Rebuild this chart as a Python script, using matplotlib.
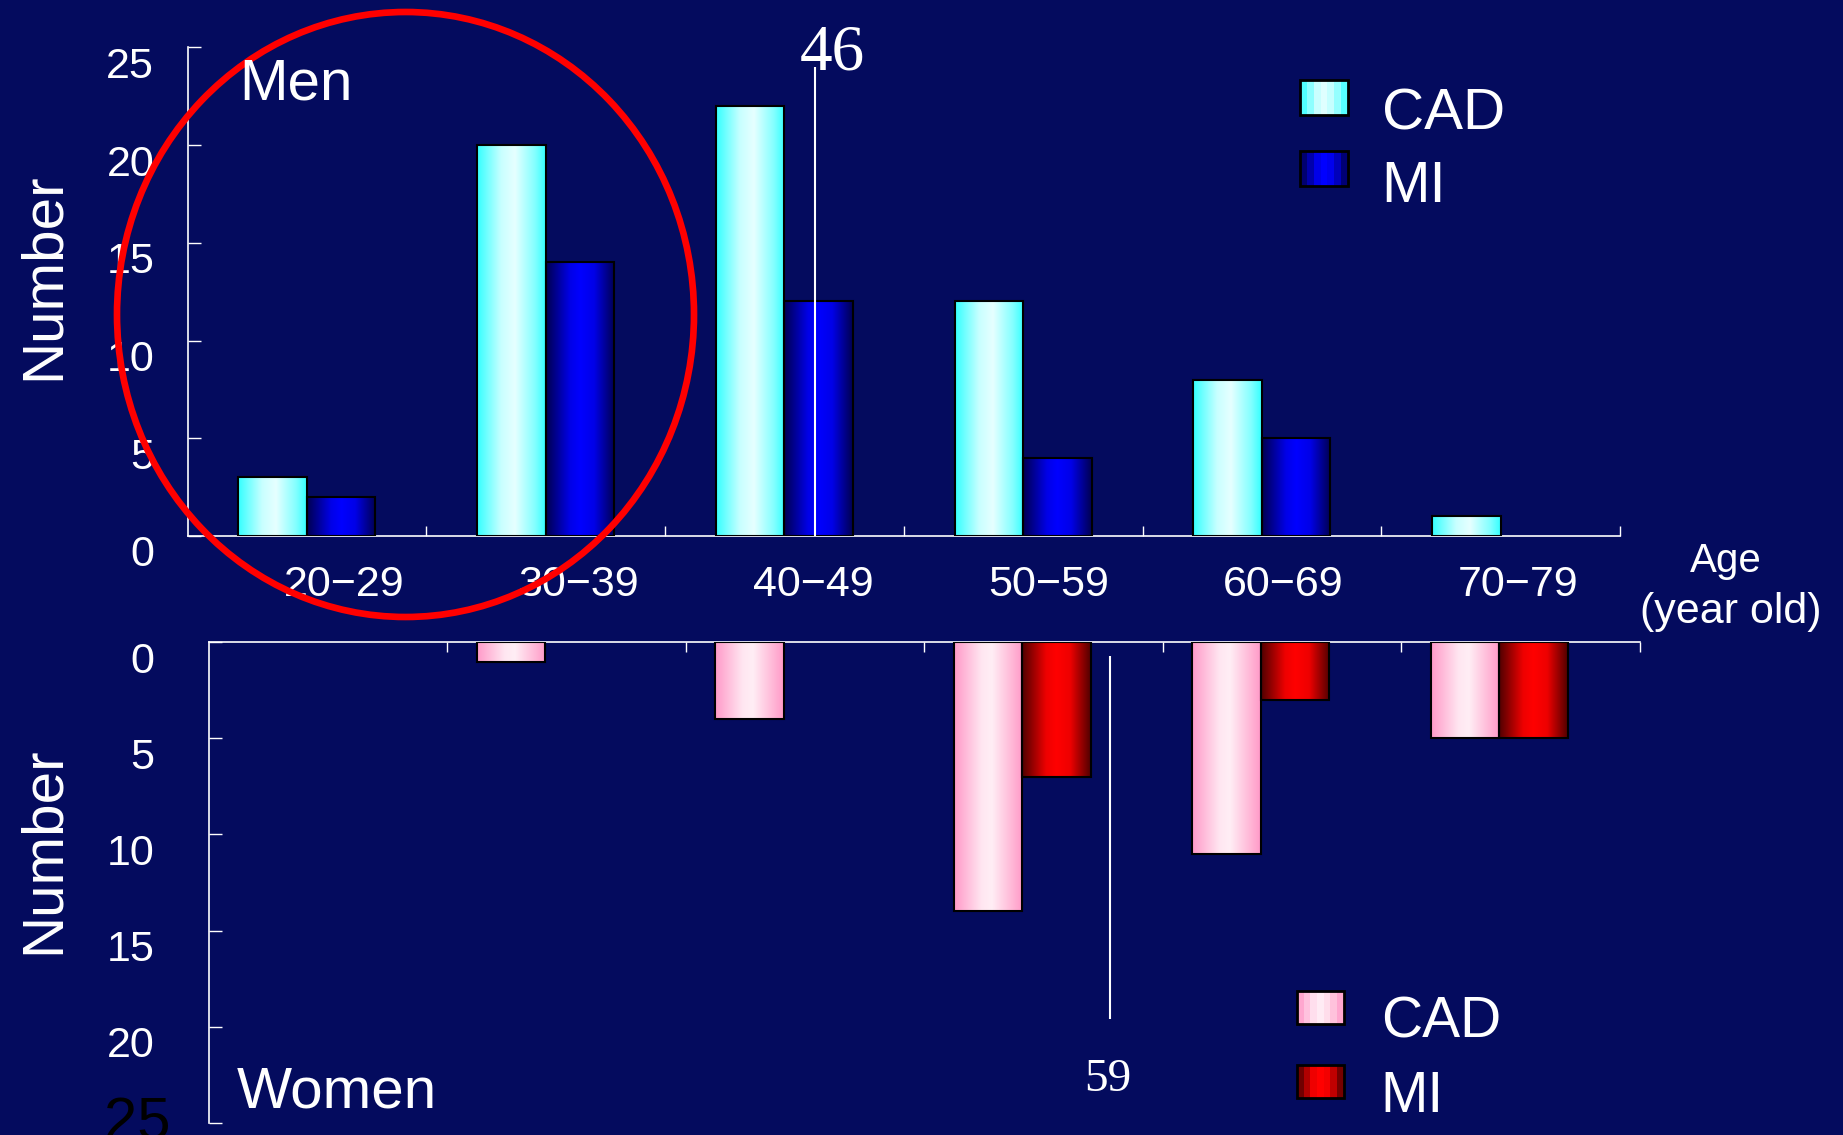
# age distribution of CAD / MI, men (top) and women (bottom)
import numpy as np
import matplotlib.pyplot as plt
from matplotlib.colors import LinearSegmentedColormap
from matplotlib.patches import Ellipse, Rectangle, Patch
from matplotlib.legend_handler import HandlerBase
from matplotlib.transforms import ScaledTranslation

# data
age_groups = ['20−29', '30−39', '40−49', '50−59', '60−69', '70−79']
men_cad = [3, 20, 22, 12, 8, 1]
men_mi = [2, 14, 12, 4, 5, 0]
women_cad = [0, 1, 4, 14, 11, 5]
women_mi = [0, 0, 0, 7, 3, 5]
mean_age_men = 46
mean_age_women = 59
y_ticks = [0, 5, 10, 15, 20, 25]

plt.rcParams['font.family'] = ['Liberation Sans', 'DejaVu Sans']

bg = '#040b5e'
W, H = 1843, 1135


def fx(px):
    return px / W


def fy(py):
    return 1 - py / H


# gradient colour maps for the bars
cmap_men_cad = LinearSegmentedColormap.from_list('mc', [(0, '#33ffff'), (0.35, '#c8ffff'), (0.55, '#e6ffff'), (0.85, '#80ffff'), (1, '#33ffff')])
cmap_men_mi = LinearSegmentedColormap.from_list('mm', [(0, '#000050'), (0.35, '#0000e8'), (0.5, '#0000ff'), (0.7, '#0000e8'), (1, '#000050')])
cmap_wom_cad = LinearSegmentedColormap.from_list('wc', [(0, '#ff99c8'), (0.4, '#ffe6f1'), (0.55, '#ffeef5'), (0.85, '#ffb6d6'), (1, '#ff99c8')])
cmap_wom_mi = LinearSegmentedColormap.from_list('wm', [(0, '#500000'), (0.35, '#ee0000'), (0.5, '#ff0000'), (0.7, '#ee0000'), (1, '#500000')])


def grad_bars(ax, rects, cmap):
    g = np.linspace(0, 1, 256).reshape(1, -1)
    for r in rects:
        if r.get_height() == 0:
            r.set_visible(False)
            continue
        x0, y0, w, h = r.get_x(), r.get_y(), r.get_width(), r.get_height()
        im = ax.imshow(g, cmap=cmap, extent=[x0, x0 + w, y0, y0 + h],
                       aspect='auto', zorder=2, interpolation='bilinear')
        im.set_clip_path(r)
        r.set_facecolor('none')
        r.set_zorder(3)


class GradHandler(HandlerBase):
    def __init__(self, cmap, lift):
        super().__init__()
        self.cmap = cmap
        self.lift = lift

    def create_artists(self, legend, orig_handle, xdescent, ydescent, width, height, fontsize, trans):
        n = 7
        y0 = -ydescent + self.lift
        arts = []
        for i in range(n):
            arts.append(Rectangle((-xdescent + i * width / n, y0), width / n, height,
                                  facecolor=self.cmap((i + 0.5) / n), edgecolor='none', transform=trans))
        arts.append(Rectangle((-xdescent, y0), width, height, facecolor='none',
                              edgecolor='black', lw=2, transform=trans))
        return arts


fig = plt.figure(figsize=(18.43, 11.35), dpi=100, facecolor=bg)

x = np.arange(len(age_groups))
bw = 0.287
shift = 21 / 238.5

ax1 = fig.add_axes([fx(187.5), fy(536), fx(1620) - fx(187.5), fy(47.4) - fy(536)])
ax2 = fig.add_axes([fx(208.5), fy(1122.7), fx(1639.5) - fx(208.5), fy(642.3) - fy(1122.7)])

for ax in (ax1, ax2):
    ax.set_facecolor('none')
    for s in ax.spines.values():
        s.set_color('white')
        s.set_linewidth(1.2)

# ---- men ----
b1 = ax1.bar(x - bw / 2, men_cad, bw, edgecolor='black', lw=1.5)
b2 = ax1.bar(x + bw / 2, men_mi, bw, edgecolor='black', lw=1.5)
grad_bars(ax1, b1, cmap_men_cad)
grad_bars(ax1, b2, cmap_men_mi)
ax1.vlines((mean_age_men - 25) / 10 + 0.03, 0, 24, color='white', lw=1.5, zorder=4)

ax1.set_xlim(-0.5, 5.5)
ax1.set_ylim(0, 25)
ax1.spines['top'].set_visible(False)
ax1.spines['right'].set_visible(False)
ax1.set_xticks(x)
ax1.set_xticklabels(age_groups)
ax1.set_xticks(np.arange(0.5, 6, 1), minor=True)
ax1.tick_params(axis='x', which='major', length=0, labelsize=31, labelcolor='white', pad=21)
ax1.tick_params(axis='x', which='minor', direction='in', length=7.2, width=1, color='white')
ax1.set_yticks(y_ticks)
ax1.tick_params(axis='y', direction='in', length=9.4, width=1, color='white',
                labelcolor='white', labelsize=31, pad=24)
# the age labels sit on a slightly tighter grid than the bars
for i, lab in enumerate(ax1.get_xticklabels()):
    dx = (37 - 3.85 * i) / 100
    lab.set_transform(lab.get_transform() + ScaledTranslation(dx, 0, fig.dpi_scale_trans))
for lab in ax1.get_yticklabels():
    lab.set_transform(lab.get_transform() + ScaledTranslation(0, -0.15, fig.dpi_scale_trans))

# ---- women ----
b3 = ax2.bar(x - bw / 2, women_cad, bw, edgecolor='black', lw=1.5)
b4 = ax2.bar(x + bw / 2, women_mi, bw, edgecolor='black', lw=1.5)
grad_bars(ax2, b3, cmap_wom_cad)
grad_bars(ax2, b4, cmap_wom_mi)
ax2.vlines((mean_age_women - 25) / 10 - 0.03, 0.7, 19.6, color='white', lw=1.5, zorder=4)

ax2.set_xlim(-0.5 + shift, 5.5 + shift)
ax2.set_ylim(25, 0)
ax2.spines['bottom'].set_visible(False)
ax2.spines['right'].set_visible(False)
ax2.xaxis.tick_top()
ax2.set_xticks([])
ax2.set_xticks(np.arange(0.5, 6, 1) + shift, minor=True)
ax2.tick_params(axis='x', which='minor', direction='in', length=7.2, width=1, color='white')
ax2.set_yticks(y_ticks)
ax2.tick_params(axis='y', direction='in', length=9.4, width=1, color='white',
                labelcolor='white', labelsize=31, pad=39)
ylabs = ax2.get_yticklabels()
for lab in ylabs[:-1]:
    lab.set_transform(lab.get_transform() + ScaledTranslation(0, -0.15, fig.dpi_scale_trans))
ylabs[-1].set_color('black')
ylabs[-1].set_fontsize(43)
ylabs[-1].set_transform(ylabs[-1].get_transform() + ScaledTranslation(0.16, 0.05, fig.dpi_scale_trans))

# ---- texts ----
fig.text(fx(239), fy(99), 'Men', fontsize=42, color='white', ha='left', va='baseline')
fig.text(fx(237), fy(1108), 'Women', fontsize=42, color='white', ha='left', va='baseline')
fig.text(fx(44), fy(276), 'Number', fontsize=42, color='white', rotation=90, ha='center', va='center')
fig.text(fx(44), fy(850), 'Number', fontsize=42, color='white', rotation=90, ha='center', va='center')
fig.text(fx(1726), fy(572), 'Age', fontsize=29, color='white', ha='center', va='baseline')
fig.text(fx(1731), fy(623), '(year old)', fontsize=31, color='white', ha='center', va='baseline')
fig.text(fx(832), fy(69), str(mean_age_men), fontsize=47, color='white', family='Liberation Serif',
         ha='center', va='baseline')
fig.text(fx(1107.5), fy(1091), str(mean_age_women), fontsize=34, color='white', family='Liberation Serif',
         ha='center', va='baseline')

# ---- legends ----
h1, h2 = Patch(), Patch()
fig.legend([h1, h2], ['CAD', 'MI'], loc='upper left', bbox_to_anchor=(fx(1300), fy(87)),
           frameon=False, fontsize=42, labelcolor='white', borderpad=0, borderaxespad=0,
           handlelength=0.82, handleheight=0.546, handletextpad=0.58, labelspacing=0.33,
           handler_map={h1: GradHandler(cmap_men_cad, 7.8), h2: GradHandler(cmap_men_mi, 9.5)})
h3, h4 = Patch(), Patch()
fig.legend([h3, h4], ['CAD', 'MI'], loc='upper left', bbox_to_anchor=(fx(1297), fy(996)),
           frameon=False, fontsize=41, labelcolor='white', borderpad=0, borderaxespad=0,
           handlelength=0.82, handleheight=0.516, handletextpad=0.65, labelspacing=0.36,
           handler_map={h3: GradHandler(cmap_wom_cad, 7.5), h4: GradHandler(cmap_wom_mi, 7.5)})

# red circle around the young groups
fig.add_artist(Ellipse((fx(405.5), fy(314.5)), 577 / W, 605 / H, transform=fig.transFigure,
                       fill=False, edgecolor='#ff0000', lw=4.8))

fig.savefig('out.png', dpi=100, facecolor=bg)
